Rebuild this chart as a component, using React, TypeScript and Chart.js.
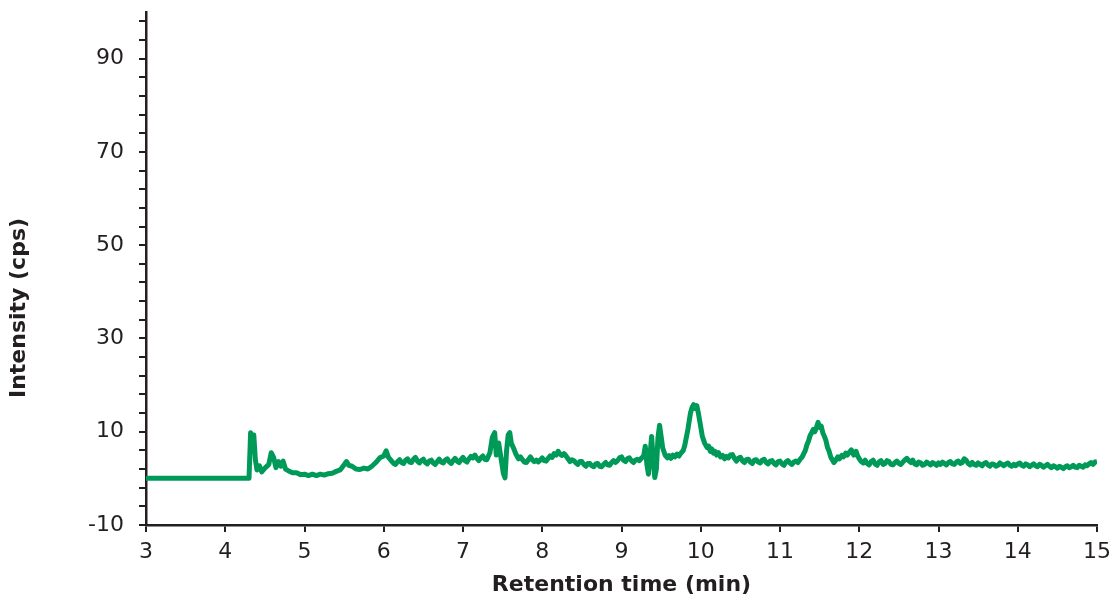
import React, { useEffect, useRef } from "react";
import { Chart, registerables } from "chart.js";

Chart.register(...registerables);

// [retention time (min), intensity (cps)], segment by segment
const segFlat = [[3.0, 0], [4.3, 0]];
const segEarly = [
  [4.32, 9.8], [4.34, 8.2], [4.36, 9.3], [4.38, 4.0], [4.4, 1.8], [4.43, 2.7], [4.46, 1.4], [4.5, 2.2], [4.55, 3.0], [4.58, 5.5],
  [4.61, 4.5], [4.64, 2.3], [4.67, 3.6], [4.7, 2.6], [4.73, 3.7], [4.76, 2.0], [4.8, 1.6], [4.85, 1.2], [4.9, 1.2], [4.95, 0.8],
  [5.0, 0.9], [5.05, 0.6], [5.1, 0.9], [5.15, 0.6], [5.2, 0.9], [5.25, 0.7], [5.3, 1.0], [5.35, 1.1], [5.4, 1.5], [5.45, 1.8],
  [5.5, 2.9], [5.53, 3.6], [5.56, 2.8], [5.6, 2.6], [5.65, 2.0], [5.7, 1.9], [5.75, 2.2], [5.8, 2.0], [5.85, 2.6], [5.9, 3.4],
  [5.95, 4.4], [6.0, 4.8], [6.03, 5.9], [6.06, 4.5],
];
const segBase1 = [
  [6.1, 3.7], [6.125, 3.2], [6.15, 3.0], [6.175, 3.6], [6.2, 4.0], [6.225, 3.4], [6.25, 3.2], [6.275, 3.9], [6.3, 4.2], [6.325, 3.5],
  [6.35, 3.4], [6.375, 4.1], [6.4, 4.5], [6.425, 3.7], [6.45, 3.3], [6.475, 3.8], [6.5, 4.1], [6.525, 3.4], [6.55, 3.1], [6.575, 3.7],
  [6.6, 3.9], [6.625, 3.3], [6.65, 3.0], [6.675, 3.6], [6.7, 4.1], [6.725, 3.5], [6.75, 3.3], [6.775, 3.9], [6.8, 4.2], [6.825, 3.6],
  [6.85, 3.2], [6.875, 3.8], [6.9, 4.3], [6.925, 3.7], [6.95, 3.4], [6.975, 4.0], [7.0, 4.5], [7.025, 3.8], [7.05, 3.5], [7.075, 4.2],
  [7.1, 4.7], [7.125, 4.4], [7.15, 5.0], [7.175, 4.3], [7.2, 3.8], [7.225, 4.4], [7.25, 4.8], [7.275, 4.1], [7.3, 4.0],
];
const segSpikes1 = [
  [7.34, 5.5], [7.37, 8.8], [7.4, 9.8], [7.42, 5.0], [7.45, 7.6], [7.48, 4.3], [7.51, 1.0], [7.53, 0.1], [7.55, 6.0], [7.57, 9.3],
  [7.59, 9.8], [7.61, 7.5], [7.64, 6.4], [7.67, 5.1],
];
const segBase2 = [
  [7.7, 4.2], [7.725, 4.6], [7.75, 4.0], [7.775, 3.5], [7.8, 3.4], [7.825, 4.0], [7.85, 4.6], [7.875, 4.0], [7.9, 3.6], [7.925, 3.9],
  [7.95, 3.5], [7.975, 3.9], [8.0, 4.4], [8.025, 3.8], [8.05, 3.7], [8.075, 4.3], [8.1, 4.8], [8.125, 4.5], [8.15, 5.3], [8.175, 5.0],
  [8.2, 5.8], [8.225, 5.2], [8.25, 4.9], [8.275, 5.3], [8.3, 4.8], [8.325, 4.2], [8.35, 3.6], [8.375, 4.0], [8.4, 3.8], [8.425, 3.3],
  [8.45, 3.0], [8.475, 3.6], [8.5, 3.6], [8.525, 3.0], [8.55, 2.6], [8.575, 3.2], [8.6, 3.2], [8.625, 2.7], [8.65, 2.5], [8.675, 3.1],
  [8.7, 3.2], [8.725, 2.6], [8.75, 2.5], [8.775, 3.0], [8.8, 3.4], [8.825, 2.9], [8.85, 2.8], [8.875, 3.4], [8.9, 3.8], [8.925, 3.4],
  [8.95, 3.8], [8.975, 4.4], [9.0, 4.6], [9.025, 3.9], [9.05, 3.6], [9.075, 4.2], [9.1, 4.4], [9.125, 3.8], [9.15, 3.4], [9.175, 3.9],
  [9.2, 4.1], [9.225, 3.8], [9.25, 4.3],
];
const segPeak10 = [
  [9.28, 4.8], [9.3, 6.9], [9.32, 3.0], [9.34, 0.9], [9.36, 5.0], [9.38, 9.0], [9.4, 4.0], [9.42, 0.2], [9.44, 2.0], [9.46, 8.7],
  [9.48, 11.4], [9.5, 9.0], [9.52, 6.5], [9.55, 5.0], [9.58, 4.4], [9.6, 4.9], [9.625, 4.3], [9.65, 5.0], [9.675, 4.6], [9.7, 5.2],
  [9.725, 4.8], [9.75, 5.4], [9.78, 6.0], [9.8, 7.2], [9.84, 10.7], [9.87, 14.0], [9.89, 15.2], [9.91, 15.8], [9.93, 15.0], [9.95, 15.6],
  [9.97, 14.0], [9.99, 12.0], [10.02, 9.0], [10.05, 7.5], [10.08, 6.6], [10.1, 6.9], [10.12, 5.8], [10.14, 6.3], [10.16, 5.4], [10.18, 5.8],
  [10.2, 5.0], [10.225, 5.5], [10.25, 4.6], [10.275, 4.9],
];
const segBase3 = [
  [10.3, 4.2], [10.325, 4.7], [10.35, 4.4], [10.375, 5.0], [10.4, 5.1], [10.425, 4.3], [10.45, 3.7], [10.475, 4.3], [10.5, 4.5], [10.525, 3.8],
  [10.55, 3.4], [10.575, 4.0], [10.6, 4.1], [10.625, 3.5], [10.65, 3.2], [10.675, 3.9], [10.7, 4.0], [10.725, 3.5], [10.75, 3.3], [10.775, 3.9],
  [10.8, 4.1], [10.825, 3.4], [10.85, 3.1], [10.875, 3.7], [10.9, 3.8], [10.925, 3.2], [10.95, 2.9], [10.975, 3.6], [11.0, 3.7], [11.025, 3.1],
  [11.05, 2.8], [11.075, 3.5], [11.1, 3.8], [11.125, 3.3], [11.15, 3.0], [11.175, 3.5], [11.2, 3.7], [11.225, 3.4], [11.25, 4.0],
];
const segPeak11 = [
  [11.28, 4.6], [11.3, 5.3], [11.32, 6.0], [11.34, 7.2], [11.36, 8.0], [11.38, 9.2], [11.4, 9.8], [11.42, 10.5], [11.44, 10.0], [11.46, 10.9],
  [11.48, 12.0], [11.5, 10.9], [11.52, 11.2], [11.54, 9.8], [11.56, 9.0], [11.58, 8.1], [11.6, 6.6], [11.62, 5.8], [11.64, 4.6], [11.66, 4.0],
  [11.68, 3.4], [11.7, 3.8], [11.73, 4.6], [11.75, 4.2], [11.78, 4.9], [11.8, 4.6], [11.83, 5.4], [11.85, 5.0], [11.88, 5.7], [11.9, 6.1],
  [11.93, 5.0], [11.96, 5.8], [11.98, 4.8],
];
const segTail = [
  [12.0, 4.2], [12.025, 3.6], [12.05, 3.3], [12.075, 3.9], [12.1, 3.2], [12.125, 2.9], [12.15, 3.6], [12.175, 3.9], [12.2, 3.1], [12.225, 2.8],
  [12.25, 3.5], [12.275, 3.8], [12.3, 3.0], [12.325, 3.2], [12.35, 3.8], [12.375, 3.6], [12.4, 3.0], [12.425, 2.9], [12.45, 3.4], [12.475, 3.7],
  [12.5, 3.2], [12.525, 3.0], [12.55, 3.5], [12.575, 3.9], [12.6, 4.3], [12.625, 3.8], [12.65, 3.4], [12.675, 3.9], [12.7, 3.1], [12.725, 2.9],
  [12.75, 3.5], [12.775, 3.3], [12.8, 2.8], [12.825, 3.0], [12.85, 3.5], [12.875, 3.2], [12.9, 2.9], [12.925, 3.4], [12.95, 3.1], [12.975, 2.8],
  [13.0, 3.3], [13.025, 3.0], [13.05, 3.5], [13.075, 3.2], [13.1, 2.9], [13.125, 3.4], [13.15, 3.6], [13.175, 3.1], [13.2, 3.0], [13.225, 3.5],
  [13.25, 3.7], [13.275, 3.2], [13.3, 3.4], [13.325, 4.2], [13.35, 3.9], [13.375, 3.2], [13.4, 2.9], [13.425, 3.4], [13.45, 3.0], [13.475, 2.8],
  [13.5, 3.3], [13.525, 3.0], [13.55, 2.7], [13.575, 3.2], [13.6, 3.4], [13.625, 2.9], [13.65, 2.6], [13.675, 3.1], [13.7, 3.0], [13.725, 2.6],
  [13.75, 2.8], [13.775, 3.3], [13.8, 3.0], [13.825, 2.7], [13.85, 3.1], [13.875, 3.3], [13.9, 2.8], [13.925, 2.6], [13.95, 3.0], [13.975, 2.7],
  [14.0, 3.1], [14.025, 3.3], [14.05, 2.8], [14.075, 2.6], [14.1, 3.1], [14.125, 2.9], [14.15, 2.5], [14.175, 2.8], [14.2, 3.1], [14.225, 2.7],
  [14.25, 2.5], [14.275, 3.0], [14.3, 2.8], [14.325, 2.4], [14.35, 2.7], [14.375, 3.0], [14.4, 2.6], [14.425, 2.3], [14.45, 2.7], [14.475, 2.5],
  [14.5, 2.2], [14.525, 2.6], [14.55, 2.4], [14.575, 2.1], [14.6, 2.5], [14.625, 2.7], [14.65, 2.3], [14.675, 2.5], [14.7, 2.8], [14.725, 2.4],
  [14.75, 2.3], [14.775, 2.8], [14.8, 2.6], [14.825, 2.4], [14.85, 2.9], [14.875, 2.7], [14.9, 3.1], [14.925, 3.4], [14.95, 3.0], [14.975, 3.5],
  [15.0, 3.6],
];

const xTickValues = [3, 4, 5, 6, 7, 8, 9, 10, 11, 12, 13, 14, 15];
const yTickValues = [-10, -6, -2, 2, 6, 10, 14, 18, 22, 26, 30, 34, 38, 42, 46, 50, 54, 58, 62, 66, 70, 74, 78, 82, 86, 90, 94, 98];
const yTickLabels = [-10, 10, 30, 50, 70, 90];
const xTitle = "Retention time (min)";
const yTitle = "Intensity (cps)";

const INK = "#231f20";
const GREEN = "#009a58";
const FONT = "'DejaVu Sans', Verdana, sans-serif";

const yTitlePlugin = {
  id: "yTitlePlugin",
  afterDraw(chart: any) {
    const ctx = chart.ctx;
    ctx.save();
    ctx.translate(19, 308);
    ctx.rotate(-Math.PI / 2);
    ctx.fillStyle = INK;
    ctx.font = `bold 22px ${FONT}`;
    ctx.textAlign = "center";
    ctx.textBaseline = "middle";
    ctx.fillText(yTitle, 0, 0);
    ctx.restore();
  },
};

export default function App() {
  const ref = useRef<HTMLCanvasElement | null>(null);

  useEffect(() => {
    const canvas = ref.current;
    if (!canvas) return;
    const all = [
      ...segFlat, ...segEarly, ...segBase1, ...segSpikes1, ...segBase2,
      ...segPeak10, ...segBase3, ...segPeak11, ...segTail,
    ];
    const points = all.map(([t, v]) => ({ x: t, y: v }));
    const chart = new Chart(canvas, {
      type: "line",
      data: {
        datasets: [
          {
            data: points,
            borderColor: GREEN,
            borderWidth: 5,
            pointRadius: 0,
            tension: 0,
            borderJoinStyle: "round",
            borderCapStyle: "butt",
            fill: false,
          },
        ],
      },
      plugins: [yTitlePlugin],
      options: {
        responsive: false,
        animation: false,
        events: [],
        layout: { padding: { top: 12, right: 16, left: 0, bottom: 0 } },
        plugins: { legend: { display: false }, tooltip: { enabled: false } },
        scales: {
          x: {
            type: "linear",
            min: 3,
            max: 15,
            afterBuildTicks: (scale: any) => {
              scale.ticks = xTickValues.map((v) => ({ value: v }));
            },
            afterFit: (scale: any) => {
              scale.height = 76;
              scale.paddingLeft = 0;
              scale.paddingRight = 0;
            },
            border: { display: true, color: INK, width: 2.5 },
            grid: { drawOnChartArea: false, drawTicks: true, tickLength: 7, color: INK, lineWidth: 2 },
            ticks: {
              color: INK,
              padding: 7,
              maxRotation: 0,
              font: { family: FONT, size: 22 },
              callback: (v: any) => String(v),
            },
            title: {
              display: true,
              text: xTitle,
              color: INK,
              padding: { top: 0, bottom: 3 },
              font: { family: FONT, size: 22, weight: "bold" },
            },
          },
          y: {
            type: "linear",
            min: -10,
            max: 100,
            afterBuildTicks: (scale: any) => {
              scale.ticks = yTickValues.map((v) => ({ value: v }));
            },
            afterFit: (scale: any) => {
              scale.width = 146;
              scale.paddingTop = 0;
              scale.paddingBottom = 0;
            },
            border: { display: true, color: INK, width: 2.5 },
            grid: { drawOnChartArea: false, drawTicks: true, tickLength: 7, color: INK, lineWidth: 2 },
            ticks: {
              color: INK,
              padding: 15,
              autoSkip: false,
              font: { family: FONT, size: 22 },
              callback: (v: any) => (yTickLabels.includes(Number(v)) ? String(v) : ""),
            },
            title: { display: false },
          },
        },
      },
    });
    return () => chart.destroy();
  }, []);

  return (
    <div style={{ position: "fixed", left: 0, top: 0, width: 1113, height: 601, background: "#fff" }}>
      <canvas ref={ref} width={1113} height={601} style={{ display: "block" }} />
    </div>
  );
}
